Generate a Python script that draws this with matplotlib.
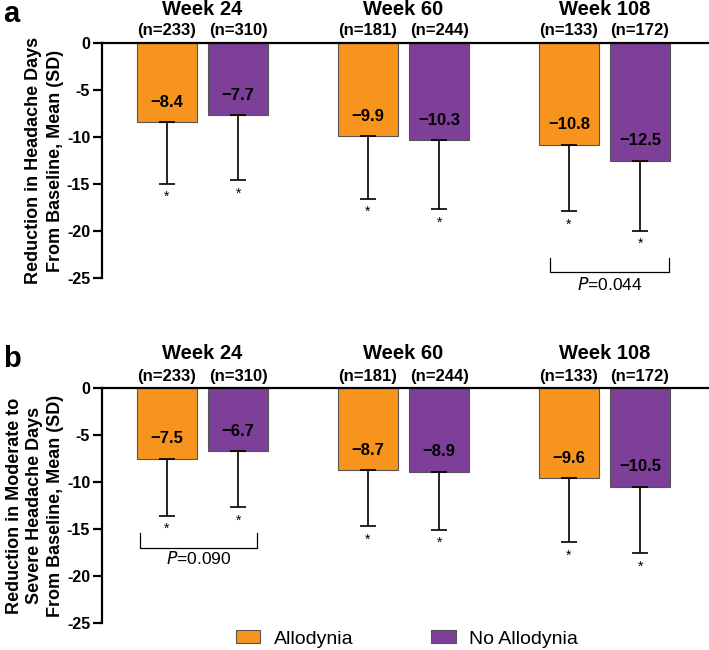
import numpy as np
import matplotlib
matplotlib.use('Agg')
import matplotlib.pyplot as plt
from matplotlib.patches import Patch

plt.rcParams['font.family'] = ['Liberation Sans', 'DejaVu Sans']
plt.rcParams['axes.unicode_minus'] = False

weeks = ['Week 24', 'Week 60', 'Week 108']
n_allo = [233, 181, 133]
n_no = [310, 244, 172]

# panel a: headache days
a_allo = [-8.4, -9.9, -10.8]
a_no = [-7.7, -10.3, -12.5]
a_allo_sd = [6.6, 6.7, 7.1]
a_no_sd = [6.9, 7.4, 7.5]

# panel b: moderate to severe headache days
b_allo = [-7.5, -8.7, -9.6]
b_no = [-6.7, -8.9, -10.5]
b_allo_sd = [6.1, 6.0, 6.8]
b_no_sd = [6.0, 6.2, 7.1]

yticks = [0, -5, -10, -15, -20, -25]

c_allo = '#F7941E'
c_no = '#7D3F98'

W, H = 709, 650
fig = plt.figure(figsize=(W / 100, H / 100), dpi=100)


def panel(rect, allo, no, allo_sd, no_sd, ylabel, lab_sp, letter, week_y, n_y):
    ax = fig.add_axes(rect)
    x = np.arange(len(weeks))
    off = 0.177
    bw = 0.295
    ax.bar(x - off, allo, bw, color=c_allo, edgecolor='#555555', linewidth=0.8)
    ax.bar(x + off, no, bw, color=c_no, edgecolor='#555555', linewidth=0.8)
    for xs, vals, sds in [(x - off, allo, allo_sd), (x + off, no, no_sd)]:
        ax.errorbar(xs, vals, yerr=[sds, np.zeros(len(sds))], fmt='none',
                    ecolor='black', elinewidth=1.2, capsize=5.5, capthick=1.2)
        for xi, v, s in zip(xs, vals, sds):
            ax.text(xi, v + 2.1, '\u2212%.1f' % abs(v), ha='center', va='center',
                    fontsize=12, fontweight='bold')
            ax.text(xi, v - s - 1.4, '*', ha='center', va='center', fontsize=10)
    for i, w in enumerate(weeks):
        ax.text(x[i], week_y, w, ha='center', va='center', fontsize=14.5,
                fontweight='bold', clip_on=False)
        ax.text(x[i] - off, n_y, '(n=%d)' % n_allo[i], ha='center', va='center',
                fontsize=12, fontweight='bold', clip_on=False)
        ax.text(x[i] + off, n_y, '(n=%d)' % n_no[i], ha='center', va='center',
                fontsize=12, fontweight='bold', clip_on=False)
    ax.set_xlim(-0.5, 2.52)
    ax.set_ylim(-25, 0)
    ax.set_yticks(yticks)
    ax.set_yticklabels([str(t) for t in yticks], fontsize=11.5, fontweight='bold')
    ax.set_xticks([])
    for s in ['right', 'bottom']:
        ax.spines[s].set_visible(False)
    ax.spines['left'].set_linewidth(1.6)
    ax.spines['top'].set_linewidth(1.6)
    ax.tick_params(axis='y', width=1.6, length=6.5, pad=2)
    ax.set_ylabel(ylabel, fontsize=13, fontweight='bold', linespacing=lab_sp)
    ax.yaxis.set_label_coords(-0.062, 0.5)
    fig.text(0.004, rect[1] + rect[3] + 0.045, letter, fontsize=21,
             fontweight='bold', va='center', ha='left')
    return ax


def bracket(ax, x0, x1, ytop, ybot, label, ytext):
    ax.plot([x0, x0, x1, x1], [ytop, ybot, ybot, ytop], color='black',
            linewidth=0.9, clip_on=False)
    ax.text((x0 + x1) / 2, ytext, r'$\it{P}$=' + label, ha='center', va='center',
            fontsize=12.5, clip_on=False)


ax_a = panel([102 / W, 1 - 278 / H, 607 / W, 235 / H], a_allo, a_no, a_allo_sd, a_no_sd,
             'Reduction in Headache Days\nFrom Baseline, Mean (SD)', 1.45, 'a', 3.6, 1.3)
bracket(ax_a, 1.73, 2.32, -22.9, -24.4, '0.044', -25.7)

ax_b = panel([102 / W, 1 - 623 / H, 607 / W, 235 / H], b_allo, b_no, b_allo_sd, b_no_sd,
             'Reduction in Moderate to\nSevere Headache Days\nFrom Baseline, Mean (SD)',
             1.3, 'b', 3.7, 1.2)
bracket(ax_b, -0.31, 0.27, -15.4, -17.0, '0.090', -18.1)

handles = [Patch(facecolor=c_allo, edgecolor='#555555', linewidth=0.8, label='Allodynia'),
           Patch(facecolor=c_no, edgecolor='#555555', linewidth=0.8, label='No Allodynia')]
fig.legend(handles=handles, loc='center', bbox_to_anchor=(0.574, 0.017), ncol=2,
           frameon=False, fontsize=14, handlelength=1.25, handleheight=0.65,
           handletextpad=0.7, columnspacing=4.0, borderaxespad=0, borderpad=0)

fig.savefig('out.png', dpi=100)
